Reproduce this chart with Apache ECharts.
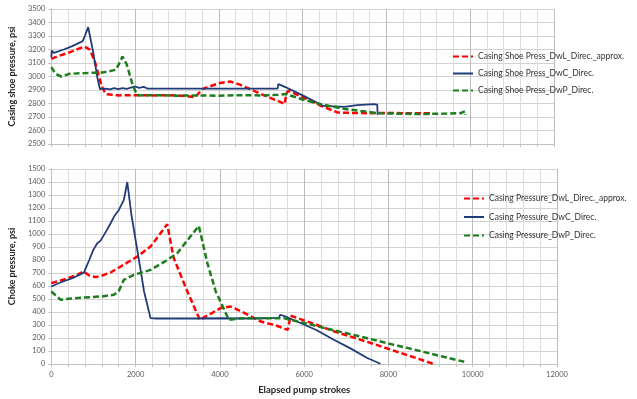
<!DOCTYPE html>
<html>
<head>
<meta charset="utf-8">
<script src="https://cdn.jsdelivr.net/npm/echarts@6/dist/echarts.min.js"></script>
<style>
  html, body { margin: 0; padding: 0; background: #fff; }
  #main { width: 637px; height: 399px; }
</style>
</head>
<body>
<div id="main"></div>
<script>
// top panel: casing shoe pressure [strokes, psi]
var shoeDwL = [[0,3130],[150,3150],[400,3175],[600,3200],[790,3222],[925,3198],[1050,3100],[1200,2930],[1300,2870],[1600,2860],[2000,2862],[2400,2860],[2800,2862],[3200,2856],[3440,2847],[3600,2906],[4000,2950],[4270,2963],[4500,2940],[4784,2901],[5180,2847],[5400,2820],[5575,2797],[5600,2860],[5655,2896],[5969,2851],[6444,2782],[6841,2733],[7200,2730],[7600,2728],[8000,2730],[8500,2728],[9054,2728]];
var shoeDwC = [[0,3140],[10,3192],[60,3175],[300,3200],[500,3225],[750,3262],[800,3300],[880,3366],[1000,3180],[1100,2990],[1163,2906],[1300,2910],[1400,2904],[1500,2914],[1600,2906],[1700,2914],[1800,2908],[1900,2918],[2000,2926],[2100,2916],[2200,2924],[2300,2910],[2600,2910],[3000,2910],[3500,2910],[4000,2910],[4500,2910],[5000,2910],[5400,2910],[5420,2943],[5600,2920],[6000,2860],[6500,2782],[7000,2775],[7300,2788],[7700,2795],[7780,2792],[7790,2716]];
var shoeDwP = [[0,3070],[100,3020],[237,3000],[436,3020],[800,3025],[1226,3030],[1400,3040],[1542,3050],[1620,3095],[1700,3148],[1800,3090],[1930,2950],[2033,2870],[2100,2860],[2500,2862],[3000,2858],[3500,2860],[4000,2858],[4500,2862],[5000,2860],[5418,2864],[5600,2870],[6000,2830],[6500,2790],[7000,2760],[7500,2740],[7790,2728],[8200,2725],[8800,2722],[9400,2725],[9766,2728],[9880,2742],[9885,2718]];

// bottom panel: choke pressure [strokes, psi]
var chokeDwL = [[0,622],[300,650],[600,685],[773,711],[900,680],[1051,668],[1200,680],[1407,704],[1700,760],[2038,826],[2355,903],[2751,1075],[2900,820],[3200,580],[3525,340],[3800,390],[4016,430],[4253,442],[4600,390],[4965,327],[5300,300],[5613,263],[5677,371],[6000,336],[6703,252],[7500,170],[8285,86],[9076,0]];
var chokeDwC = [[0,596],[200,625],[500,660],[773,703],[900,800],[1000,880],[1091,929],[1170,949],[1300,1020],[1407,1083],[1500,1140],[1604,1185],[1722,1262],[1803,1400],[1900,1150],[2000,955],[2100,760],[2200,560],[2355,353],[2500,350],[3000,350],[3500,350],[4000,352],[4500,350],[5000,352],[5400,355],[5430,379],[5600,360],[5913,315],[6300,260],[6703,187],[7100,120],[7496,46],[7811,2]];
var chokeDwP = [[0,558],[221,494],[500,505],[932,514],[1200,520],[1485,532],[1600,560],[1722,647],[1960,686],[2355,724],[2700,790],[2988,852],[3250,960],[3501,1062],[3700,780],[3900,560],[4100,420],[4213,340],[4500,352],[5000,352],[5510,353],[6000,315],[6703,260],[7500,198],[8000,158],[8760,99],[9300,56],[9867,12]];

var shoeNames = ['Casing Shoe Press_DwL_Direc._approx.', 'Casing Shoe Press_DwC_Direc.', 'Casing Shoe Press_DwP_Direc.'];
var chokeNames = ['Casing Pressure_DwL_Direc._approx.', 'Casing Pressure_DwC_Direc.', 'Casing Pressure_DwP_Direc.'];

var xTicks = [0, 2000, 4000, 6000, 8000, 10000, 12000];

var RED = '#ff0000', NAVY = '#1f3b7a', GREEN = '#1e7d1e';
var FONT = 'Lato';

var chart = echarts.init(document.getElementById('main'), null, { renderer: 'canvas' });

function plain(v) {
  return String(v);   // no thousands separator, like the excel original
}

function xAxisCfg(grid, showLabels) {
  return {
    type: 'value',
    gridIndex: grid,
    min: xTicks[0],
    max: xTicks[xTicks.length - 1],
    interval: 2000,
    name: showLabels ? 'Elapsed pump strokes' : '',
    nameLocation: 'middle',
    nameGap: 21,
    nameTextStyle: { fontFamily: FONT, fontSize: 9.5, fontWeight: 'bold', color: '#262626' },
    axisLine: { show: true, lineStyle: { color: '#bfbfbf', width: 1 } },
    axisTick: { show: true, length: 3, lineStyle: { color: '#bfbfbf' } },
    minorTick: { show: true, splitNumber: 5, length: 3, lineStyle: { color: '#bfbfbf' } },
    axisLabel: { show: showLabels, fontFamily: FONT, fontSize: 7.5, color: '#595959', margin: 7, formatter: plain },
    splitLine: { show: true, lineStyle: { color: '#bcbcbc', width: 1 } },
    minorSplitLine: { show: true, lineStyle: { color: '#dcdcdc', width: 1 } }
  };
}

function yAxisCfg(grid, min, max, name, gap) {
  return {
    type: 'value',
    gridIndex: grid,
    min: min,
    max: max,
    interval: 100,
    name: name,
    nameLocation: 'middle',
    nameRotate: 90,
    nameGap: gap,
    nameTextStyle: { fontFamily: FONT, fontSize: 9, fontWeight: 'bold', color: '#262626' },
    axisLine: { show: true, lineStyle: { color: '#bfbfbf', width: 1 } },
    axisTick: { show: true, length: 3, lineStyle: { color: '#bfbfbf' } },
    axisLabel: { fontFamily: FONT, fontSize: 7.5, color: '#595959', margin: 6, formatter: plain },
    splitLine: { show: true, lineStyle: { color: '#d2d2d2', width: 1 } }
  };
}

function lineSeries(name, data, color, dashed, axis) {
  return {
    name: name,
    type: 'line',
    xAxisIndex: axis,
    yAxisIndex: axis,
    data: data,
    symbol: 'none',
    smooth: false,
    animation: false,
    lineStyle: {
      color: color,
      width: dashed ? 2.5 : 1.8,
      type: dashed ? [6, 3] : 'solid'
    },
    itemStyle: { color: color }
  };
}

var option = {
  backgroundColor: '#ffffff',
  animation: false,
  grid: [
    { left: 48, top: 9, width: 506, height: 135 },
    { left: 51, top: 169, width: 506, height: 195 }
  ],
  legend: [
    {
      data: shoeNames,
      orient: 'vertical',
      left: 452,
      top: 52,
      padding: 0,
      itemWidth: 20,
      itemHeight: 10,
      itemGap: 8,
      itemStyle: { opacity: 0 },
      textStyle: { fontFamily: FONT, fontSize: 8.5, color: '#333333' }
    },
    {
      data: chokeNames,
      orient: 'vertical',
      left: 463,
      top: 194,
      padding: 0,
      itemWidth: 20,
      itemHeight: 10,
      itemGap: 9.5,
      itemStyle: { opacity: 0 },
      textStyle: { fontFamily: FONT, fontSize: 8.5, color: '#333333' }
    }
  ],
  xAxis: [xAxisCfg(0, false), xAxisCfg(1, true)],
  yAxis: [
    yAxisCfg(0, 2500, 3500, 'Casing shoe pressure, psi', 23),
    yAxisCfg(1, 0, 1500, 'Choke pressure, psi', 21)
  ],
  series: [
    lineSeries(shoeNames[0], shoeDwL, RED, true, 0),
    lineSeries(shoeNames[1], shoeDwC, NAVY, false, 0),
    lineSeries(shoeNames[2], shoeDwP, GREEN, true, 0),
    lineSeries(chokeNames[0], chokeDwL, RED, true, 1),
    lineSeries(chokeNames[1], chokeDwC, NAVY, false, 1),
    lineSeries(chokeNames[2], chokeDwP, GREEN, true, 1)
  ]
};

chart.setOption(option);
</script>
</body>
</html>
